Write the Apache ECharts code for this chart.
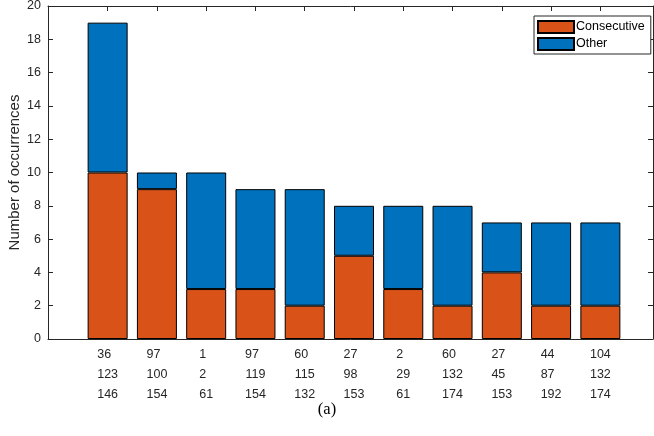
<!DOCTYPE html>
<html>
<head>
<meta charset="utf-8">
<script src="https://cdn.jsdelivr.net/npm/echarts@6/dist/echarts.min.js"></script>
<style>html,body{margin:0;padding:0;background:#fff}#c{width:654px;height:436px}</style>
</head>
<body>
<div id="c"></div>
<script>
// Tick label rows (three lines per category)
var labelRow1 = [36, 97, 1, 97, 60, 27, 2, 60, 27, 44, 104];
var labelRow2 = [123, 100, 2, 119, 115, 98, 29, 132, 45, 87, 132];
var labelRow3 = [146, 154, 61, 154, 132, 153, 61, 174, 153, 192, 174];
// Series values
var consecutive = [10, 9, 3, 3, 2, 5, 3, 2, 4, 2, 2];
var other = [9, 1, 7, 6, 7, 3, 5, 6, 3, 5, 5];
var yTicks = [0, 2, 4, 6, 8, 10, 12, 14, 16, 18, 20];

var categories = labelRow1.map(function (v, i) {
  return [labelRow1[i], labelRow2[i], labelRow3[i]].join('\n');
});

// left-align lines inside a centred block by padding with invisible digits
function padBlock(s) {
  var lines = s.split('\n');
  var maxLen = Math.max.apply(null, lines.map(function (l) { return l.length; }));
  return lines.map(function (l) {
    var pad = '';
    for (var k = l.length; k < maxLen; k++) pad += '0';
    return '{v|' + l + '}' + (pad ? '{h|' + pad + '}' : '');
  }).join('\n');
}

var axisColor = '#262626';
var font = 'Liberation Sans, Arial, sans-serif';
var lblSize = 12.5;
var chart = echarts.init(document.getElementById('c'), null, {renderer: 'canvas'});
chart.setOption({
  animation: false,
  backgroundColor: '#ffffff',
  title: {
    text: '(a)', left: 'center', top: 396,
    textStyle: {fontFamily: 'Liberation Serif, Times New Roman, serif', fontSize: 16.5, fontWeight: 'normal', color: '#000'}
  },
  legend: {
    data: ['Consecutive', 'Other'],
    orient: 'vertical', left: 534, top: 16,
    itemWidth: 36, itemHeight: 12, itemGap: 3,
    padding: [4, 6, 3, 3],
    borderColor: axisColor, borderWidth: 1, backgroundColor: '#fff',
    icon: 'rect',
    textStyle: {fontFamily: font, fontSize: 12.5, color: '#000', padding: [0, 0, 0, -3]}
  },
  grid: [
    {left: 48, right: 1, top: 6, bottom: 97, containLabel: false, outerBoundsMode: 'none'},
    {left: 83, right: 29, top: 6, bottom: 97, containLabel: false, outerBoundsMode: 'none'}
  ],
  xAxis: [
    {gridIndex: 0, type: 'value', min: 0, max: 1, position: 'bottom',
     axisLine: {show: true, onZero: false, lineStyle: {color: axisColor, width: 1}},
     axisTick: {show: false}, axisLabel: {show: false}, splitLine: {show: false}},
    {gridIndex: 0, type: 'value', min: 0, max: 1, position: 'top',
     axisLine: {show: true, onZero: false, lineStyle: {color: axisColor, width: 1}},
     axisTick: {show: false}, axisLabel: {show: false}, splitLine: {show: false}},
    {gridIndex: 1, type: 'category', data: categories, position: 'bottom',
     axisLine: {show: false, onZero: false},
     axisTick: {show: true, inside: true, alignWithLabel: true, length: 5, lineStyle: {color: axisColor}},
     axisLabel: {show: true, interval: 0, margin: 6, fontFamily: font, fontSize: lblSize, lineHeight: 20,
                 color: axisColor, align: 'center', formatter: function (v) { return padBlock(v); },
                 rich: {
                   v: {fontFamily: font, fontSize: lblSize, lineHeight: 20, color: axisColor},
                   h: {fontFamily: font, fontSize: lblSize, lineHeight: 20, color: 'rgba(0,0,0,0)'}
                 }},
     splitLine: {show: false}},
    {gridIndex: 1, type: 'category', data: categories, position: 'top',
     axisLine: {show: false, onZero: false},
     axisTick: {show: true, inside: true, alignWithLabel: true, length: 5, lineStyle: {color: axisColor}},
     axisLabel: {show: false}, splitLine: {show: false}}
  ],
  yAxis: [
    {gridIndex: 0, type: 'value', min: 0, max: 20, interval: 2, position: 'left',
     name: 'Number of occurrences', nameLocation: 'middle', nameGap: 26, nameMoveOverlap: false,
     nameTextStyle: {fontFamily: font, fontSize: 15, color: axisColor},
     axisLine: {show: true, onZero: false, lineStyle: {color: axisColor, width: 1}},
     axisTick: {show: true, inside: true, length: 5, lineStyle: {color: axisColor}},
     axisLabel: {show: true, margin: 7, fontFamily: font, fontSize: 12.5, color: axisColor,
                 formatter: function (v) { return yTicks.indexOf(v) >= 0 ? String(v) : ''; }},
     splitLine: {show: false}},
    {gridIndex: 0, type: 'value', min: 0, max: 20, interval: 2, position: 'right',
     axisLine: {show: true, onZero: false, lineStyle: {color: axisColor, width: 1}},
     axisTick: {show: true, inside: true, length: 5, lineStyle: {color: axisColor}},
     axisLabel: {show: false}, splitLine: {show: false}},
    {gridIndex: 1, type: 'value', min: 0, max: 20, show: false, splitLine: {show: false}}
  ],
  series: [
    {name: 'Consecutive', type: 'bar', stack: 'total', xAxisIndex: 2, yAxisIndex: 2,
     data: consecutive, barWidth: 40,
     itemStyle: {color: '#D95319', borderColor: '#000', borderWidth: 1}},
    {name: 'Other', type: 'bar', stack: 'total', xAxisIndex: 2, yAxisIndex: 2,
     data: other, barWidth: 40,
     itemStyle: {color: '#0072BD', borderColor: '#000', borderWidth: 1}}
  ]
});
</script>
</body>
</html>
